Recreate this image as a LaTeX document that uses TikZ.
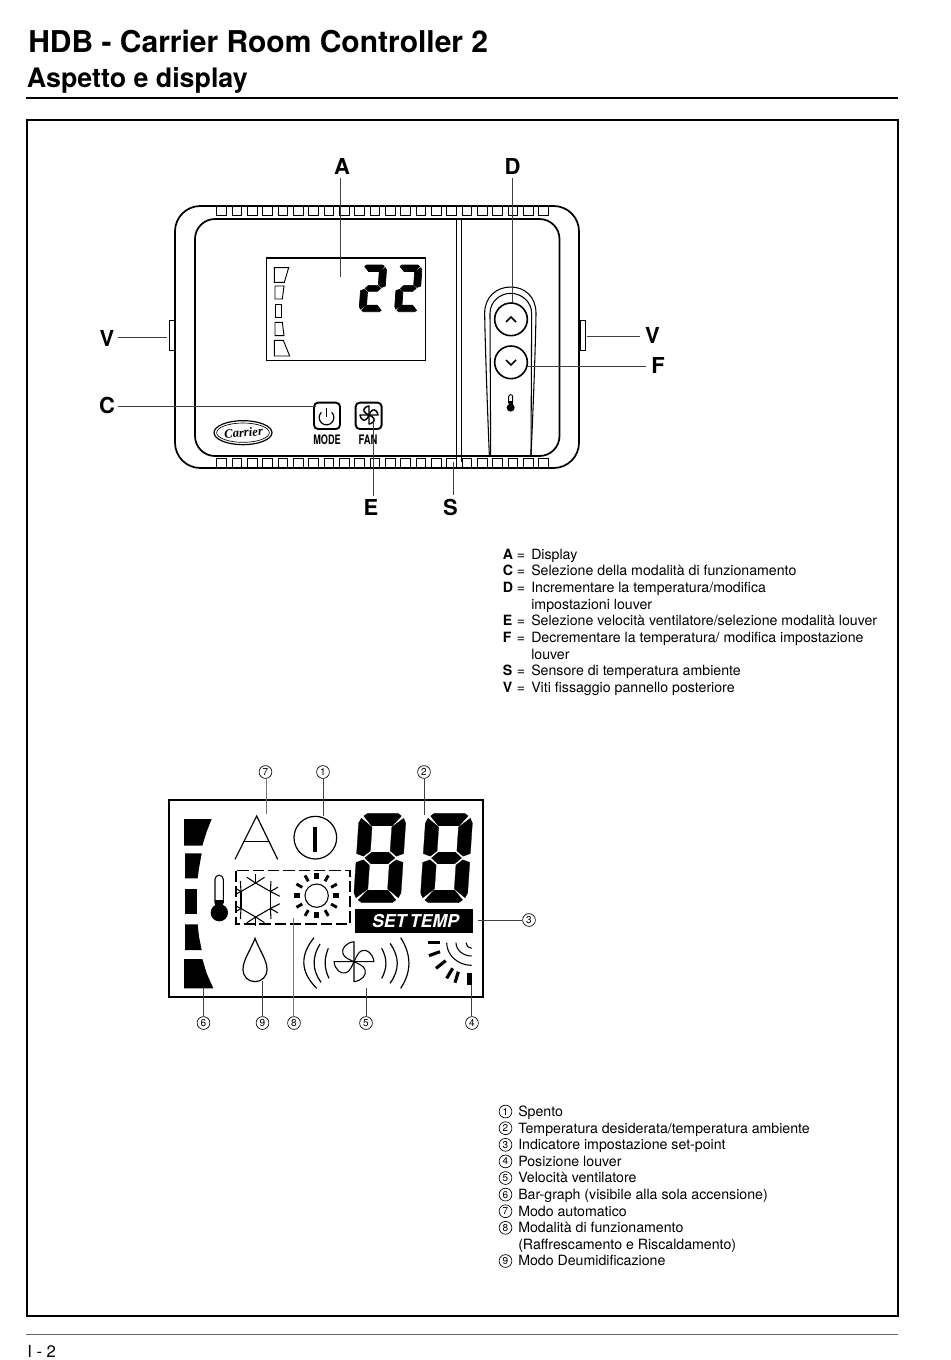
\documentclass[tikz,border=0pt]{standalone}
\usepackage{fontspec}
\setmainfont{TeX Gyre Heros}
\newfontfamily\logofont{Liberation Serif}
\newcommand\segA{\filldraw (18,0)--(82,0)--(90,6)--(72,28)--(28,28)--(10,6)--cycle;}
\newcommand\segD{\filldraw (18,200)--(82,200)--(90,194)--(72,172)--(28,172)--(10,194)--cycle;}
\newcommand\segF{\filldraw (0,22)--(5,11)--(29,31)--(29,84)--(15,96)--(0,90)--cycle;}
\newcommand\segB{\filldraw (100,22)--(95,11)--(71,31)--(71,84)--(85,96)--(100,90)--cycle;}
\newcommand\segE{\filldraw (0,178)--(5,189)--(29,169)--(29,116)--(15,104)--(0,110)--cycle;}
\newcommand\segC{\filldraw (100,178)--(95,189)--(71,169)--(71,116)--(85,104)--(100,110)--cycle;}
\newcommand\segG{\filldraw (18,100)--(32,87)--(68,87)--(82,100)--(68,113)--(32,113)--cycle;}
% x, y (top-left), width, height, slant, outline width, segments
\newcommand\lcddigit[7]{%
  \pgfmathsetmacro\da{#3*0.0075}\pgfmathsetmacro\dd{#4*0.00375}\pgfmathsetmacro\dc{#5*0.00375}%
  \begin{scope}[shift={(#1,#2)},cm={\da,0,\dc,\dd,(0,0)},x=1pt,y=-1pt,line width=#6,line join=round]
    \foreach \s in {#7}{\csname seg\s\endcsname}
  \end{scope}}
\newcommand\fanblades[2]{%
  \foreach \r in {0,90,180,270}{
    \begin{scope}[rotate=\r,scale=#1]
      \draw[line width=#2,line join=round] (0,0) -- (0,-20) .. controls (-8,-19) and (-13,-13) .. (-11,-8) .. controls (-10,-4) and (-4,-2) .. (0,0);
    \end{scope}}}
\tikzset{
  x=0.75pt,y=-0.75pt,
  ln/.style={line width=1.3pt,black},
  leader/.style={line width=0.75pt,black!75},
  thinleader/.style={line width=0.5pt,black!55},
  vent/.style={line width=0.75pt,black},
  lbl/.style={font=\fontsize{16.5}{18}\selectfont\bfseries,inner sep=0pt},
  legend/.style={font=\fontsize{10.62}{12}\selectfont,anchor=base west,inner sep=0pt},
  num/.style={circle,draw,line width=0.5pt,inner sep=0pt,minimum size=9.6pt,font=\fontsize{7.5}{8}\selectfont},
}
\begin{document}
\begin{tikzpicture}
\useasboundingbox (0,0) rectangle (950,1360);
% header
\node[anchor=base west,inner sep=0pt,font=\fontsize{22.5}{24}\selectfont\bfseries] (title) at (28,52) {HDB - Carrier Room Controller 2};
\node[anchor=base west,inner sep=0pt,font=\fontsize{20.1}{22}\selectfont\bfseries] (subtitle) at (26.5,87) {Aspetto e display};
\draw[line width=1.1pt] (26,98) -- (898,98);
\draw[line width=1.2pt] (27,120) rectangle (898,1316);
\draw[line width=0.6pt,black!60] (26,1334) -- (898,1334);
\node[anchor=base west,inner sep=0pt,font=\fontsize{12.5}{14}\selectfont] (page) at (27,1357) {I - 2};

% ---------- controller
\draw[ln,rounded corners=19pt] (175,206) rectangle (579,468);
\draw[ln,rounded corners=15pt] (195,219) rectangle (559.5,456);
\draw[line width=0.75pt] (169.5,320) rectangle (175.5,350);
\draw[line width=0.75pt] (580,320) rectangle (585,350);
\foreach \k in {0,...,21}{
  \pgfmathsetmacro\vx{216.8+15.33*\k}
  \draw[vent,fill=white] (\vx,206.5) rectangle ++(9.7,9);
  \draw[vent,fill=white] (\vx,458) rectangle ++(9.7,9.2);
}
\draw[line width=0.6pt] (456.7,219) -- (456.7,458);
\draw[line width=0.6pt] (461,219) -- (461,462);
\begin{scope}[shift={(160,190)},x=0.25pt,y=-0.25pt]
  % display
  \draw[line width=0.9pt] (319,204) rectangle (797,512);
  \draw[line width=0.7pt] (343,233)--(386,233)--(373,277)--(343,277)--cycle;
  \draw[line width=0.7pt] (345,288)--(372,288)--(367,327)--(345,327)--cycle;
  \draw[line width=0.7pt] (345,342)--(365,342)--(365,382)--(345,382)--cycle;
  \draw[line width=0.7pt] (345,397)--(367,397)--(372,437)--(345,437)--cycle;
  \draw[line width=0.7pt] (343,451)--(370,451)--(389,498)--(343,498)--cycle;
  % key strip
  \draw[line width=0.8pt] (988,795) .. controls (982,650) and (975,450) .. (974,370) .. controls (974,320) and (1010,291) .. (1052,291) .. controls (1094,291) and (1128,320) .. (1128,370) .. controls (1127,450) and (1120,650) .. (1113,795);
  \draw[line width=0.8pt] (992,795) -- (990,370) .. controls (990,335) and (1020,310) .. (1052,310) .. controls (1084,310) and (1115,335) .. (1115,370) -- (1113,795);
  \draw[line width=1.2pt,fill=white] (1053,388) circle (49);
  \draw[line width=1.2pt,fill=white] (1053,517) circle (49);
  \draw[line width=1.1pt] (1038,396) -- (1053,381) -- (1068,396);
  \draw[line width=1.1pt] (1038,510) -- (1053,525) -- (1068,510);
  \draw[line width=0.7pt] (1046,640) -- (1046,620) arc[start angle=180,end angle=0,x radius=6,y radius=-6] -- (1058,640);
  \fill (1052,653) circle (12);
  \fill (1046,632) rectangle (1058,650);
  % buttons
  \draw[line width=1.4pt,rounded corners=3pt] (462,638) rectangle (540,717);
  \draw[line width=1.4pt,rounded corners=3pt] (587,638) rectangle (665,717);
  \draw[line width=0.9pt] (484,667) arc[start angle=135,end angle=405,x radius=22,y radius=-22] ;
  \draw[line width=0.9pt] (500,653) -- (500,680);
  % logo
  \draw[line width=0.9pt] (249,728) ellipse (87 and 36);
  \draw[line width=0.5pt] (249,728) ellipse (79 and 29);
\end{scope}
\lcddigit{362.3}{265}{24.5}{46.7}{3.3}{0.5pt}{A,B,G,E,D}
\lcddigit{397.7}{265}{24.5}{46.7}{3.3}{0.5pt}{A,B,G,E,D}
\begin{scope}[shift={(369,415)}]
  \fanblades{0.45}{1.1pt}
\end{scope}
\node[rotate=5,inner sep=0pt,font=\logofont\fontsize{9.5}{10}\selectfont\bfseries\itshape] (logotext) at (243.5,432.5) {Carrier};
\node[inner sep=0pt,xscale=0.7,font=\fontsize{9.8}{10}\selectfont\bfseries] (mode) at (327,439.5) {MODE};
\node[inner sep=0pt,xscale=0.72,font=\fontsize{9.8}{10}\selectfont\bfseries] (fan) at (368,439.5) {FAN};

% labels and leaders of the controller
\node[lbl] (lA) at (342,166) {A};
\node[lbl] (lD) at (512.5,166) {D};
\node[lbl] (lC) at (107,405.5) {C};
\node[lbl] (lVl) at (107,338) {V};
\node[lbl] (lVr) at (652.5,335) {V};
\node[lbl] (lF) at (658,365) {F};
\node[lbl] (lE) at (371,507) {E};
\node[lbl] (lS) at (450.5,507) {S};
\coordinate (tA) at (340,276.7);
\coordinate (tD) at (512.7,303);
\coordinate (tC) at (316,406.7);
\coordinate (tVl) at (167,337.5);
\coordinate (tVr) at (587,336.5);
\coordinate (tF) at (527,366);
\coordinate (tE) at (373.3,423);
\coordinate (tS) at (453.3,461.5);
\draw[leader] (tA |- lA.south) ++(0,4) -- (tA);
\draw[leader] (tD |- lD.south) ++(0,4) -- (tD);
\draw[leader] (lC.east |- tC) ++(3,0) -- (tC);
\draw[leader] (lVl.east |- tVl) ++(3,0) -- (tVl);
\draw[leader] (lVr.west |- tVr) ++(-5,0) -- (tVr);
\draw[leader] (lF.west |- tF) ++(-5,0) -- (tF);
\draw[leader] (tE |- lE.north) ++(0,-3) -- (tE);
\draw[leader] (tS |- lS.north) ++(0,-3) -- (tS);

% first legend
\foreach \y/\k/\e/\t in {
 559/A/=/Display,
 575.7/C/=/Selezione della modalità di funzionamento,
 592.4/D/=/{Incrementare la temperatura/modifica},
 609.1///impostazioni louver,
 625.8/E/=/{Selezione velocità ventilatore/selezione modalità louver},
 642.5/F/=/{Decrementare la temperatura/ modifica impostazione},
 659.2///louver,
 675.9/S/=/Sensore di temperatura ambiente,
 692.6/V/=/Viti fissaggio pannello posteriore}{
  \node[legend,font=\fontsize{10.62}{12}\selectfont\bfseries] at (502.5,\y) {\k};
  \node[legend] at (516.5,\y) {\e};
  \node[legend] at (531,\y) {\t};
}

% ---------- LCD
\begin{scope}[shift={(160,790)},x=0.25pt,y=-0.25pt]
  \draw[line width=1.3pt] (26,30) rectangle (970,622);
  \fill (72,87)--(155,87)--(140,125)--(127,167)--(72,167)--cycle;
  \fill (75,190)--(125,190)--(117,235)--(113,265)--(75,265)--cycle;
  \fill (75,296) rectangle (112,373);
  \fill (75,403)--(113,403)--(117,440)--(125,480)--(75,480)--cycle;
  \fill (72,507)--(127,507)--(140,550)--(160,595)--(72,595)--cycle;
  % thermometer
  \draw[line width=0.8pt] (165,340) -- (165,268) arc[start angle=180,end angle=0,x radius=12.5,y radius=-12.5] -- (190,340);
  \fill (178,368) circle (26);
  \fill (165,330) rectangle (190,360);
  % auto
  \draw[line width=0.9pt] (225,208) -- (290,78) -- (353,208);
  \draw[line width=0.9pt] (250,155) -- (328,155);
  % on/off
  \draw[line width=0.9pt] (466,143) circle (64);
  \fill (458,110) rectangle (472,185);
  % SET TEMP
  \fill (585,358) rectangle (940,428);
  % dashed frame
  \draw[line width=0.9pt,dash pattern=on 8.5pt off 3pt] (228,242) rectangle (570,402);
  % sun
  \draw[line width=0.8pt] (470,317) circle (35);
  \foreach \a in {0,90,180,270}{\draw[line width=3.6pt] (470,317) ++(\a:50) -- ++(\a:18);}
  \foreach \a in {30,60,120,150,210,240,300,330}{\draw[line width=2.2pt] (470,317) ++(\a:50) -- ++(\a:20);}
  % drop
  \draw[line width=0.9pt] (285,445) .. controls (272,480) and (249,510) .. (249,538) .. controls (249,560) and (265,575) .. (285,575) .. controls (305,575) and (321,560) .. (321,538) .. controls (321,510) and (298,480) .. (285,445) -- cycle;
  % fan arcs
  \draw[line width=0.9pt] (462,443) .. controls (420,495) and (420,545) .. (470,595);
  \draw[line width=0.9pt] (480,462) .. controls (456,500) and (456,540) .. (483,577);
  \draw[line width=0.9pt] (505,475) .. controls (492,505) and (492,535) .. (507,565);
  \draw[line width=0.9pt] (665,475) .. controls (682,505) and (682,535) .. (665,565);
  \draw[line width=0.9pt] (690,460) .. controls (719,500) and (719,540) .. (690,580);
  \draw[line width=0.9pt] (722,443) .. controls (755,495) and (755,545) .. (722,595);
  % louver
  \draw[line width=0.8pt] (918,458) arc[start angle=180,end angle=90,x radius=17,y radius=17];
  \draw[line width=0.8pt] (888,458) arc[start angle=180,end angle=90,x radius=47,y radius=40];
  \draw[line width=0.8pt] (860,458) arc[start angle=180,end angle=90,x radius=75,y radius=68];
  \draw[line width=2.4pt] (805,458) -- (840,458);
  \draw[line width=2.4pt] (807,497) -- (840,485);
  \draw[line width=2.4pt] (828,535) -- (857,512);
  \draw[line width=2.4pt] (860,565) -- (878,535);
  \draw[line width=2.4pt] (885,578) -- (895,545);
  \draw[line width=3.4pt] (928,585) -- (928,550);
\end{scope}
% snowflake
\begin{scope}[shift={(255.7,900)}]
  \clip (-19.7,-30) rectangle (30,30);
  \foreach \a in {30,90,150,210,270,330}{
    \draw[line width=0.8pt] (\a:17) -- (\a+60:17);
    \draw[line width=0.8pt] (\a:17) -- ++(\a:8.7);
    \draw[line width=0.8pt] (\a:17) -- ++(\a+57:10.5);
    \draw[line width=0.8pt] (\a:17) -- ++(\a-57:10.5);
  }
\end{scope}
\begin{scope}[shift={(354,961.7)}]
  \fanblades{1}{0.8pt}
\end{scope}
\lcddigit{359.3}{813.3}{47}{89.3}{6}{0.2pt}{A,B,C,D,E,F,G}
\lcddigit{426}{813.3}{47}{89.3}{6}{0.2pt}{A,B,C,D,E,F,G}
\node[inner sep=0pt,text=white,font=\fontsize{13.3}{14}\selectfont\bfseries\itshape] (settemp) at (415.5,921) {SET\hspace{-0.1em} TEMP};

% numbered callouts
\node[num] (n7) at (265.5,772) {7};
\node[num] (n1) at (323,772) {1};
\node[num] (n2) at (424,772) {2};
\node[num] (n3) at (529,920) {3};
\node[num] (n6) at (203.5,1023) {6};
\node[num] (n9) at (262.5,1023) {9};
\node[num] (n8) at (294,1023) {8};
\node[num] (n5) at (366,1023) {5};
\node[num] (n4) at (472,1023) {4};
\coordinate (e7) at (266,814);
\coordinate (e1) at (323.3,816);
\coordinate (e2) at (424,815);
\coordinate (e3) at (478,919.5);
\coordinate (e6) at (203.3,988);
\coordinate (e9) at (262.3,981);
\coordinate (e8) at (293.5,918);
\coordinate (e5) at (366,988);
\coordinate (e4) at (471.7,985);
\draw[thinleader] (e7 |- n7.south) -- (e7);
\draw[leader,line width=1pt] (e1 |- n1.south) -- (e1);
\draw[leader] (e2 |- n2.south) -- (e2);
\draw[leader] (n3.west) -- (e3 |- n3.west);
\draw[leader] (e6 |- n6.north) -- (e6);
\draw[leader] (e9 |- n9.north) -- (e9);
\draw[thinleader] (e8 |- n8.north) -- (e8);
\draw[leader] (e5 |- n5.north) -- (e5);
\draw[leader] (e4 |- n4.north) -- (e4);

% second legend
\foreach \y/\k/\t in {
 1116.3/1/Spento,
 1133/2/{Temperatura desiderata/temperatura ambiente},
 1149.6/3/Indicatore impostazione set-point,
 1166.2/4/Posizione louver,
 1182.8/5/Velocità ventilatore,
 1199.4/6/Bar-graph (visibile alla sola accensione),
 1216/7/Modo automatico,
 1232.6/8/Modalità di funzionamento}{
  \node[num] at (505.5,\y-4.8) {\k};
  \node[legend] at (518,\y) {\t};
}
\node[legend] at (518,1249.2) {(Raffrescamento e Riscaldamento)};
\node[num] at (505.5,1261) {9};
\node[legend] at (518,1265.8) {Modo Deumidificazione};
\end{tikzpicture}
\end{document}
